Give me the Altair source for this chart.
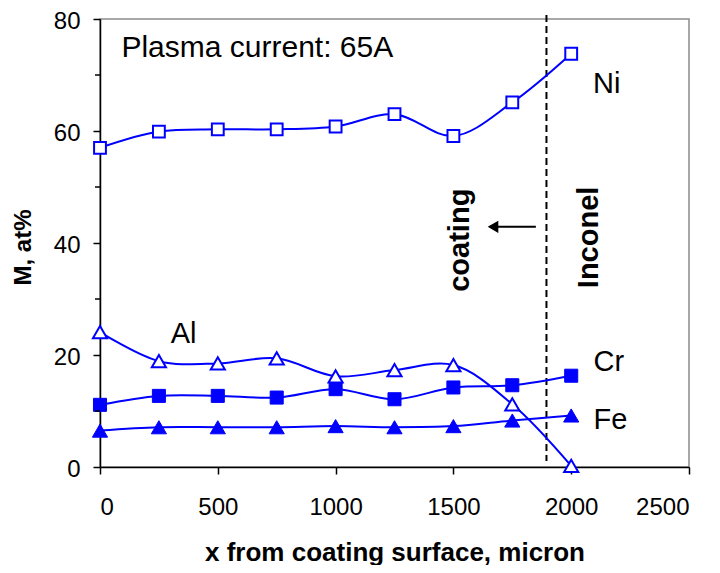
import altair as alt
import pandas as pd

# ---- data ----
x_pos = [0, 250, 500, 750, 1000, 1250, 1500, 1750, 2000]
ni = [57.0, 59.9, 60.3, 60.3, 60.8, 63.0, 59.1, 65.1, 73.8]
al = [24.1, 18.9, 18.5, 19.4, 16.2, 17.3, 18.2, 11.2, 0.2]
cr = [11.1, 12.7, 12.7, 12.4, 13.9, 12.1, 14.2, 14.6, 16.3]
fe = [6.5, 7.1, 7.1, 7.1, 7.3, 7.1, 7.3, 8.3, 9.2]
series_names = ["Ni", "Al", "Cr", "Fe"]

x_ticks = [0, 500, 1000, 1500, 2000, 2500]
y_ticks = [0, 20, 40, 60, 80]
y_minor = [10, 30, 50, 70]

boundary_x = [1895]
arrow_from = [1850]
arrow_to = [1668]
arrow_y = [42.9]

plain_labels = ["Ni", "Al", "Cr", "Fe"]
plain_x = [2093, 300, 2095, 2095]
plain_y = [66.8, 22.1, 17.2, 6.8]
title_text = ["Plasma current: 65A"]
title_x = [91]
title_y = [73.2]
bold_labels = ["coating", "Inconel"]
bold_x = [1530, 2074]
bold_y = [40.5, 41.0]

FONT = "Liberation Sans"
BLUE = "#0000ff"

rows = []
for name, vals in zip(series_names, [ni, al, cr, fe]):
    for xv, yv in zip(x_pos, vals):
        rows.append({"x": xv, "value": yv, "series": name})
df = pd.DataFrame(rows)

xs = alt.Scale(domain=[0, 2500], nice=False, zero=False)
ys = alt.Scale(domain=[0, 80], nice=False)

x_axis = alt.Axis(
    values=x_ticks, format="d", title="x from coating surface, micron", grid=False,
    tickSize=7, labelFontSize=24, labelPadding=21, labelFont=FONT,
    titleFont=FONT, titleFontSize=26, titleFontWeight="bold",
    titleX=294.5, titleY=93, titleAlign="center", titleBaseline="alphabetic",
    domainColor="black", tickColor="black", domainWidth=1.5, tickWidth=1.5,
    labelColor="black", titleColor="black",
)
y_axis = alt.Axis(
    values=y_ticks, title="M, at%", grid=False,
    tickSize=7, labelFontSize=24, labelPadding=13, labelOffset=2, labelFont=FONT,
    titleFont=FONT, titleFontSize=24, titleFontWeight="bold",
    titleX=-77, titleY=228, titleAngle=270, titleAlign="center", titleBaseline="middle",
    domainColor="black", tickColor="black", domainWidth=1.5, tickWidth=1.5,
    labelColor="black", titleColor="black",
)


def X(f="x"):
    return alt.X(f + ":Q", scale=xs, axis=x_axis)


def Y(f="value"):
    return alt.Y(f + ":Q", scale=ys, axis=y_axis)


base = alt.Chart(df)

lines = base.mark_line(color=BLUE, strokeWidth=2, interpolate="catmull-rom").encode(
    x=X(), y=Y(), detail="series:N"
)

pt_ni = base.transform_filter(alt.datum.series == "Ni").mark_point(
    shape="square", filled=True, fill="white", stroke=BLUE, strokeWidth=2, size=140, opacity=1
).encode(x=X(), y=Y())
pt_al = base.transform_filter(alt.datum.series == "Al").mark_point(
    shape="triangle-up", filled=True, fill="white", stroke=BLUE, strokeWidth=2, size=200, opacity=1
).encode(x=X(), y=Y())
pt_cr = base.transform_filter(alt.datum.series == "Cr").mark_point(
    shape="square", filled=True, fill=BLUE, stroke=BLUE, strokeWidth=1, size=170, opacity=1
).encode(x=X(), y=Y())
pt_fe = base.transform_filter(alt.datum.series == "Fe").mark_point(
    shape="triangle-up", filled=True, fill=BLUE, stroke=BLUE, strokeWidth=1, size=230, opacity=1
).encode(x=X(), y=Y())

minor = alt.Chart(pd.DataFrame({"value": y_minor})).mark_rule(
    color="black", strokeWidth=1.5
).encode(y=Y(), x=alt.value(-5), x2=alt.value(0))

boundary = alt.Chart(pd.DataFrame({"x": boundary_x})).mark_rule(
    color="black", strokeWidth=2, strokeDash=[7, 4]
).encode(x=X(), y=alt.value(-4), y2=alt.value(442))

arrow_line = alt.Chart(pd.DataFrame({"x": arrow_from, "x2": arrow_to, "value": arrow_y})).mark_rule(
    color="black", strokeWidth=2
).encode(x=X(), x2="x2:Q", y=Y())
arrow_head = alt.Chart(pd.DataFrame({"x": arrow_to, "value": arrow_y})).mark_point(
    shape="triangle-left", filled=True, color="black", size=150, opacity=1
).encode(x=X(), y=Y())

txt_plain = alt.Chart(pd.DataFrame({"x": plain_x, "value": plain_y, "t": plain_labels})).mark_text(
    font=FONT, fontSize=29, align="left", baseline="alphabetic", color="black"
).encode(x=X(), y=Y(), text="t:N")
txt_title = alt.Chart(pd.DataFrame({"x": title_x, "value": title_y, "t": title_text})).mark_text(
    font=FONT, fontSize=30, align="left", baseline="alphabetic", color="black"
).encode(x=X(), y=Y(), text="t:N")
txt_bold = alt.Chart(pd.DataFrame({"x": bold_x, "value": bold_y, "t": bold_labels})).mark_text(
    font=FONT, fontSize=29, fontWeight="bold", align="center", baseline="middle",
    angle=270, color="black"
).encode(x=X(), y=Y(), text="t:N")

chart = alt.layer(
    boundary, lines, pt_ni, pt_al, pt_cr, pt_fe, minor, arrow_line, arrow_head,
    txt_plain, txt_title, txt_bold
).properties(
    width=589, height=448,
    autosize=alt.AutoSizeParams(type="none"),
    padding={"left": 92, "top": 11, "right": 20, "bottom": 98},
).configure_view(
    stroke="#8c8c8c", strokeWidth=1.5
)

chart.save("out.html", embed_options={"renderer": "svg", "actions": False})
